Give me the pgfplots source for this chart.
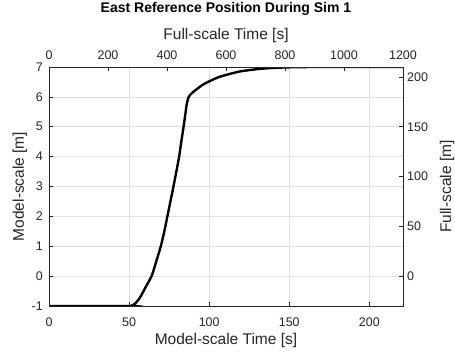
\documentclass[border=0pt]{standalone}
\usepackage{pgfplots}
\pgfplotsset{compat=1.18}
\usepackage{fontspec}
\setmainfont{Liberation Sans}
\definecolor{axgray}{HTML}{262626}
\definecolor{gridgray}{HTML}{DFDFDF}

\begin{document}
\begin{tikzpicture}
\useasboundingbox (-49pt,-45pt) rectangle (406pt,306pt);
\pgfplotsset{
  every axis/.append style={
    scale only axis, width=354pt, height=239pt,
    at={(0pt,0pt)}, anchor=south west,
    tick align=inside, major tick length=4pt,
    axis line style={axgray, line width=0.6pt},
    every tick/.style={axgray, line width=0.6pt},
    tick label style={font=\fontsize{12.5}{14}\selectfont, text=axgray},
    label style={font=\fontsize{15.5}{18}\selectfont, text=axgray},
    /pgf/number format/assume math mode=true,
    /pgf/number format/1000 sep={},
    scaled ticks=false,
  },
}
% model-scale axes (bottom / left)
\begin{axis}[
  xmin=0, xmax=221, ymin=-1, ymax=7,
  xtick={0,50,100,150,200}, ytick={-1,0,1,2,3,4,5,6,7},
  xtick pos=left, ytick pos=left,
  grid=major, grid style={gridgray, line width=0.6pt},
  xticklabel style={anchor=base, yshift=-20pt},
  yticklabel style={anchor=east, inner sep=0pt, xshift=-6pt},
  title={East Reference Position During Sim 1},
  title style={at={([yshift=49pt]axis description cs:0.5,1)}, anchor=base,
    font=\bfseries\fontsize{14}{16}\selectfont, text=black},
  xlabel={Model-scale Time [s]},
  ylabel={Model-scale [m]},
  xlabel style={at={([yshift=-38pt]axis description cs:0.5,0)}, anchor=base},
  ylabel style={at={([xshift=-25pt]axis description cs:0,0.5)}, anchor=base},
]
\addplot[black, line width=2.4pt, smooth, tension=0.35] coordinates {
  (0,-1) (50,-1) (51.5,-0.99) (53.75,-0.92) (56.9,-0.71) (60.6,-0.34)
  (64.2,0.02) (67,0.5) (69.8,1) (72,1.5) (73.9,2) (75.8,2.5) (77.7,3)
  (79.5,3.5) (81.25,4) (82.6,4.5) (84,5) (85,5.38) (86,5.76) (87,5.97)
  (88,6.06) (89.5,6.14) (91.3,6.22) (94,6.33) (96.4,6.42) (100,6.52)
  (105.8,6.66) (113,6.77) (119,6.85) (125.6,6.9) (132,6.94) (140,6.97)
  (150,6.99) (165,7) (221,7)
};
\end{axis}
% full-scale axes (top / right), Froude scale 1:30
\begin{axis}[
  xmin=0, xmax=1200, ymin=-30, ymax=210,
  xtick={0,200,400,600,800,1000,1200}, ytick={0,50,100,150,200},
  xtick pos=right, ytick pos=right,
  xticklabel pos=right, yticklabel pos=right,
  xticklabel style={anchor=base, yshift=8pt},
  yticklabel style={anchor=west, inner sep=0pt, xshift=4pt},
  xlabel={Full-scale Time [s]},
  ylabel={Full-scale [m]},
  xlabel style={at={([yshift=28pt]axis description cs:0.5,1)}, anchor=base},
  ylabel style={at={([xshift=48pt]axis description cs:1,0.5)}, anchor=base},
]
\end{axis}
\end{tikzpicture}
\end{document}
